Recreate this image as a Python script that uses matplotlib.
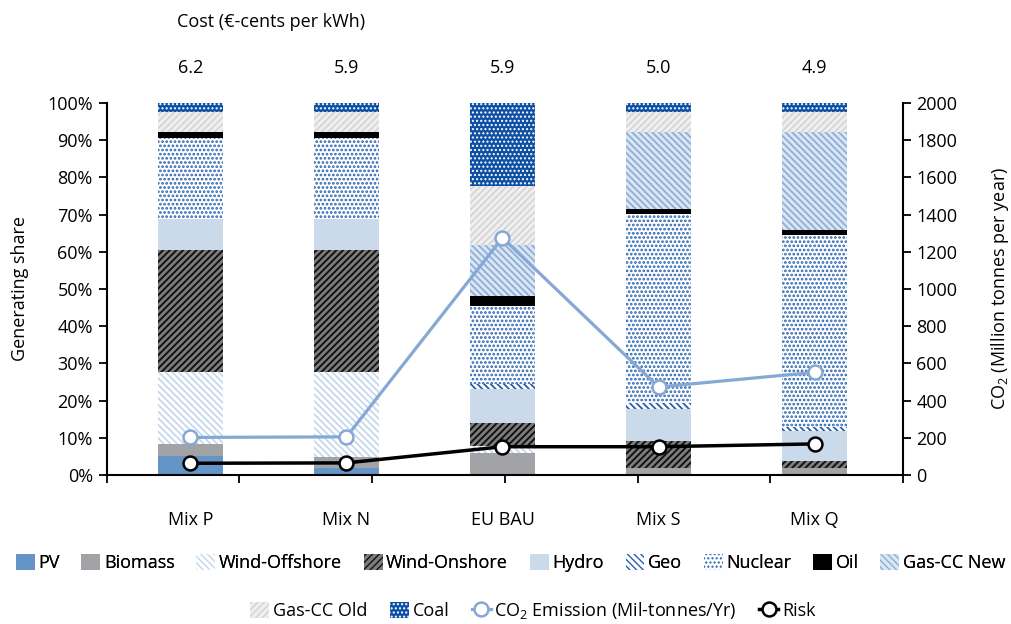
import numpy as np
import matplotlib
matplotlib.use("Agg")
import matplotlib.pyplot as plt

plt.rcParams['font.family'] = ['Open Sans', 'DejaVu Sans']
plt.rcParams['mathtext.fontset'] = 'custom'
plt.rcParams['mathtext.rm'] = 'Open Sans'
plt.rcParams['mathtext.it'] = 'Open Sans'

# Data
mixes = ["Mix P", "Mix N", "EU BAU", "Mix S", "Mix Q"]
cost = ["6.2", "5.9", "5.9", "5.0", "4.9"]

pv            = [5.1, 2.0, 0.0, 0.0, 0.0]
biomass       = [3.2, 2.9, 6.0, 2.0, 2.0]
wind_offshore = [19.4, 22.8, 1.9, 0.0, 0.0]
wind_onshore  = [32.8, 32.8, 6.0, 7.2, 1.8]
hydro         = [8.3, 8.3, 9.2, 8.5, 8.1]
geo           = [0.0, 0.0, 1.3, 1.6, 1.1]
nuclear       = [21.8, 21.8, 20.9, 50.9, 51.5]
oil           = [1.5, 1.5, 2.7, 1.3, 1.4]
gas_new       = [0.0, 0.0, 13.7, 20.7, 26.3]
gas_old       = [5.5, 5.5, 16.1, 5.5, 5.5]
coal          = [2.4, 2.4, 22.2, 2.5, 2.3]

co2_emission = [202, 205, 1275, 473, 552]
risk = [63, 65, 152, 152, 167]

# (label, values, face, hatch, hatch colour, hatch width)
layers = [
    ("PV", pv, "#6594c7", None, "#6594c7", 1.0),
    ("Biomass", biomass, "#a2a3a6", None, "#a2a3a6", 1.0),
    ("Wind-Offshore", wind_offshore, "white", "\\\\\\\\\\", "#c4d6ec", 1.2),
    ("Wind-Onshore", wind_onshore, "#7d7d7d", "/////", "#111111", 1.4),
    ("Hydro", hydro, "#cbdaeb", None, "#cbdaeb", 1.0),
    ("Geo", geo, "white", "\\\\\\\\\\", "#2a5fab", 1.3),
    ("Nuclear", nuclear, "white", "....", "#2a64b0", 1.3),
    ("Oil", oil, "black", None, "black", 1.0),
    ("Gas-CC New", gas_new, "#dbe6f3", "\\\\\\\\\\", "#8eaed8", 1.3),
    ("Gas-CC Old", gas_old, "#efefef", "/////", "#d2d2d2", 1.1),
    ("Coal", coal, "#0d4fa3", "....", "white", 1.0),
]

fig = plt.figure(figsize=(10.11, 6.24), dpi=100)
ax = fig.add_axes([0.1055, 0.2388, 0.7877, 0.5962])

x = np.arange(len(mixes))
bottom = np.zeros(len(mixes))
handles = []
for label, vals, face, hatch, hcol, hlw in layers:
    plt.rcParams['hatch.linewidth'] = hlw
    vals = np.array(vals)
    bars = ax.bar(x, vals, width=0.417, bottom=bottom, color=face,
                  edgecolor=hcol, hatch=hatch, linewidth=0, label=label,
                  zorder=2)
    handles.append(bars)
    bottom += vals

xl = (106.7 - 190.5) / 156.0
xr = (903.0 - 190.5) / 156.0
ax.set_xlim(xl, xr)
ax.set_ylim(0, 100)
ax.set_yticks(np.arange(0, 101, 10))
ax.set_yticklabels([f"{v}%" for v in range(0, 101, 10)])
ax.set_xticks(np.linspace(xl, xr, 7))
ax.set_xticklabels([])
ax.tick_params(axis='both', direction='out', length=6, width=1.3, labelsize=13,
               colors='black')
ax.tick_params(axis='y', pad=4)
for s in ['left', 'bottom']:
    ax.spines[s].set_linewidth(1.5)
ax.spines['top'].set_visible(False)
ax.spines['right'].set_visible(False)

for i, m in enumerate(mixes):
    ax.text(i, -0.121, m, transform=ax.get_xaxis_transform(), ha='center',
            va='center', fontsize=13)
    ax.text(i, 1.094, cost[i], transform=ax.get_xaxis_transform(), ha='center',
            va='center', fontsize=13)
fig.text(0.175, 0.965, "Cost (€-cents per kWh)", ha='left', va='center', fontsize=13)

ax2 = ax.twinx()
ax2.set_ylim(0, 2000)
ax2.set_yticks(np.arange(0, 2001, 200))
ax2.tick_params(axis='y', direction='out', length=6, width=1.3, labelsize=13)
ax2.spines['right'].set_linewidth(1.5)
for s in ['top', 'left', 'bottom']:
    ax2.spines[s].set_visible(False)

l_co2, = ax2.plot(x, co2_emission, color="#86a8d4", lw=2.3, marker='o',
                  markersize=10, markerfacecolor='white', markeredgecolor="#86a8d4",
                  markeredgewidth=1.8, label="CO$_2$ Emission (Mil-tonnes/Yr)",
                  zorder=5)
l_risk, = ax2.plot(x, risk, color="black", lw=2.5, marker='o', markersize=10,
                   markerfacecolor='white', markeredgecolor='black',
                   markeredgewidth=1.8, label="Risk", zorder=6)

fig.text(0.02, 0.537, "Generating share", rotation=90, ha='center', va='center',
         fontsize=13)
fig.text(0.989, 0.537, "CO$_2$ (Million tonnes per year)", rotation=90,
         ha='center', va='center', fontsize=13)

leg1 = fig.legend(handles=handles[:9], loc='center', bbox_to_anchor=(0.505, 0.098),
                  ncol=9, frameon=False, fontsize=13, handlelength=1.05,
                  handleheight=1.0, handletextpad=0.2, columnspacing=1.2,
                  borderaxespad=0, borderpad=0)
fig.legend(handles=handles[9:] + [l_co2, l_risk], loc='center',
           bbox_to_anchor=(0.527, 0.022), ncol=4, frameon=False, fontsize=13,
           handlelength=1.05, handleheight=1.0, handletextpad=0.2,
           columnspacing=1.25, borderaxespad=0, borderpad=0)
fig.add_artist(leg1)

fig.savefig("out.png", dpi=100)
